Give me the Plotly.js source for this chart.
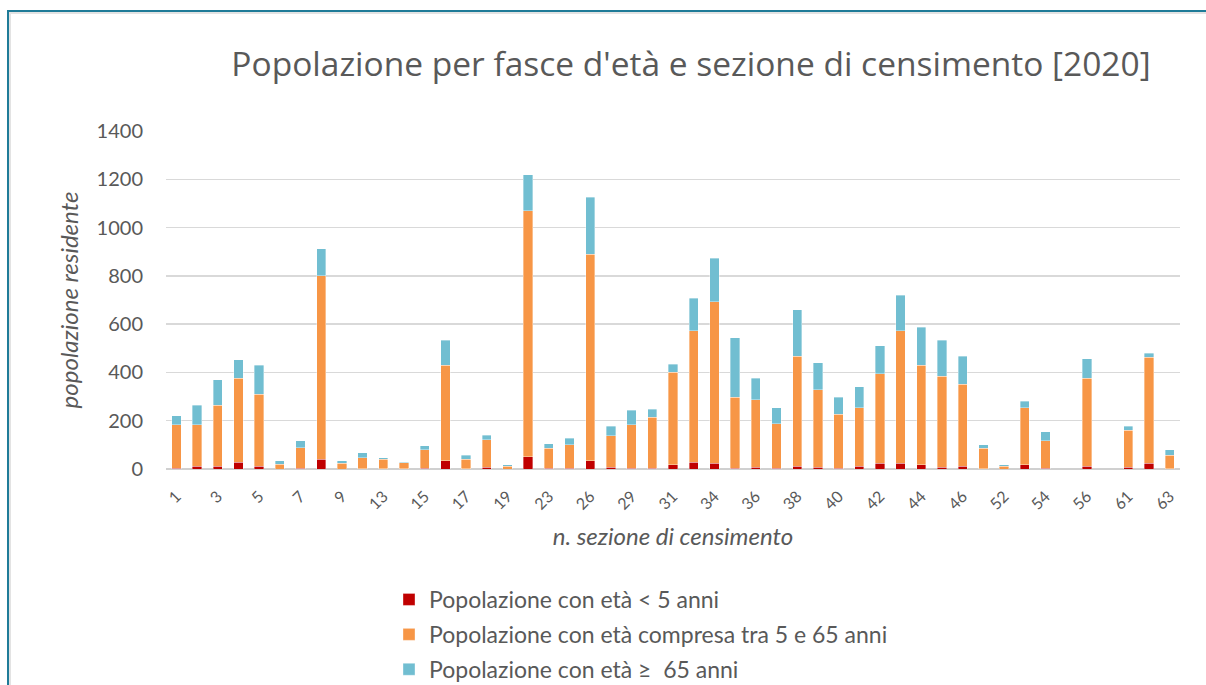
<!DOCTYPE html>
<html>
<head>
<meta charset="utf-8">
<script src="https://cdn.plot.ly/plotly-3.0.1.min.js"></script>
<style>
  html, body { margin: 0; padding: 0; background: #fff; overflow: hidden; }
  #chart { width: 1206px; height: 685px; position: absolute; left: 0; top: 0; }
  #frame { position: absolute; left: 7px; top: 10px; width: 1300px; height: 800px;
           border-left: 2px solid #1f7b98; border-top: 2px solid #1f7b98;
           box-shadow: inset 2px 2px 0 #e3e3e3; pointer-events: none; }
</style>
</head>
<body>
<div id="chart"></div>
<div id="frame"></div>
<script>
// census sections (category axis)
const sections = ['1','2','3','4','5','6','7','8','9','10','13','14','15','16','17','18','19','21','23','24',
                  '26','27','29','30','31','32','34','35','36','37','38','39','40','41','42','43','44','45','46','48',
                  '52','53','54','55','56','58','61','62','63'];
// labelled ticks (every other category)
const tickLabels = ['1','3','5','7','9','13','15','17','19','23','26','29','31','34','36','38','40','42','44','46','52','54','56','61','63'];

// population < 5 years
const under5 = [3,12,12,29,12,0,3,40,0,2, 1,1,3,35,2,8,0,51,3,3,
                35,8,3,3,18,29,24,3,8,3, 12,8,3,12,24,24,18,8,12,2,
                0,18,3,0,12,0,8,24,2];
// population 5 - 65 years
const age5to65 = [180,171,253,346,297,19,86,761,24,44, 39,24,76,394,38,114,12,1019,82,98,
                  855,129,180,212,383,543,668,294,278,184, 456,321,223,242,371,548,411,376,340,83,
                  12,236,114,0,363,0,153,438,55];
// population >= 65 years
const over65 = [38,82,104,77,120,16,28,111,11,21, 6,4,17,104,17,17,6,148,20,27,
                235,41,60,33,33,136,181,247,89,67, 191,111,71,87,116,148,158,149,116,15,
                6,26,37,0,82,0,17,17,22];

const seriesNames = ['Popolazione con età < 5 anni',
                     'Popolazione con età compresa tra 5 e 65 anni',
                     'Popolazione con età ≥  65 anni'];
const colors = ['#C00000', '#F79646', '#71BED1'];
const values = [under5, age5to65, over65];

const FONT = 'Lato, "Open Sans", sans-serif';
const GREY = '#595959';

const traces = values.map((v, i) => ({
  type: 'bar',
  x: sections,
  y: v,
  name: seriesNames[i],
  legendgroup: 'g' + i,
  marker: { color: colors[i], line: { color: 'rgba(255,255,255,0.6)', width: 0.6 } },
  hoverinfo: 'x+y+name'
}));

const layout = {
  width: 1206, height: 685,
  margin: { l: 166, r: 26, t: 131, b: 216, autoexpand: false },
  paper_bgcolor: '#ffffff',
  plot_bgcolor: '#ffffff',
  barmode: 'stack',
  bargap: 0.55,
  font: { family: FONT, color: GREY },
  title: {
    text: "Popolazione per fasce d'età e sezione di censimento [2020]",
    font: { family: '"Open Sans", Lato, sans-serif', size: 33.5, color: GREY },
    xref: 'container', yref: 'container',
    x: 691 / 1206, xanchor: 'center',
    y: 1 - 64 / 685, yanchor: 'middle'
  },
  xaxis: {
    type: 'category',
    categoryorder: 'array',
    categoryarray: sections,
    tickvals: tickLabels,
    ticktext: tickLabels,
    tickangle: -45,
    tickfont: { family: FONT, size: 16, color: GREY },
    ticks: '',
    ticklabelstandoff: 14,
    showgrid: false,
    showline: false,
    zeroline: false,
    title: {
      text: '<i>n. sezione di censimento</i>',
      font: { family: FONT, size: 24, color: GREY },
      standoff: 16
    }
  },
  yaxis: {
    range: [0, 1400],
    dtick: 200,
    tick0: 0,
    tickfont: { family: FONT, size: 20, color: GREY },
    ticks: '',
    ticklabelstandoff: 22,
    showgrid: true,
    gridcolor: '#d9d9d9',
    gridwidth: 1.5,
    zeroline: true,
    zerolinecolor: '#d0d0d0',
    zerolinewidth: 1.5,
    showline: false,
    title: {
      text: '<i>popolazione residente</i>',
      font: { family: FONT, size: 24, color: GREY },
      standoff: 11
    }
  },
  showlegend: true,
  legend: {
    orientation: 'v',
    traceorder: 'grouped',
    tracegroupgap: 2,
    x: (389 - 166) / 1014, xanchor: 'left',
    y: -(578 - 469) / 338, yanchor: 'top',
    font: { family: FONT, size: 23, color: GREY },
    bgcolor: 'rgba(0,0,0,0)'
  }
};

Plotly.newPlot('chart', traces, layout, { displayModeBar: false, staticPlot: true });
</script>
</body>
</html>
